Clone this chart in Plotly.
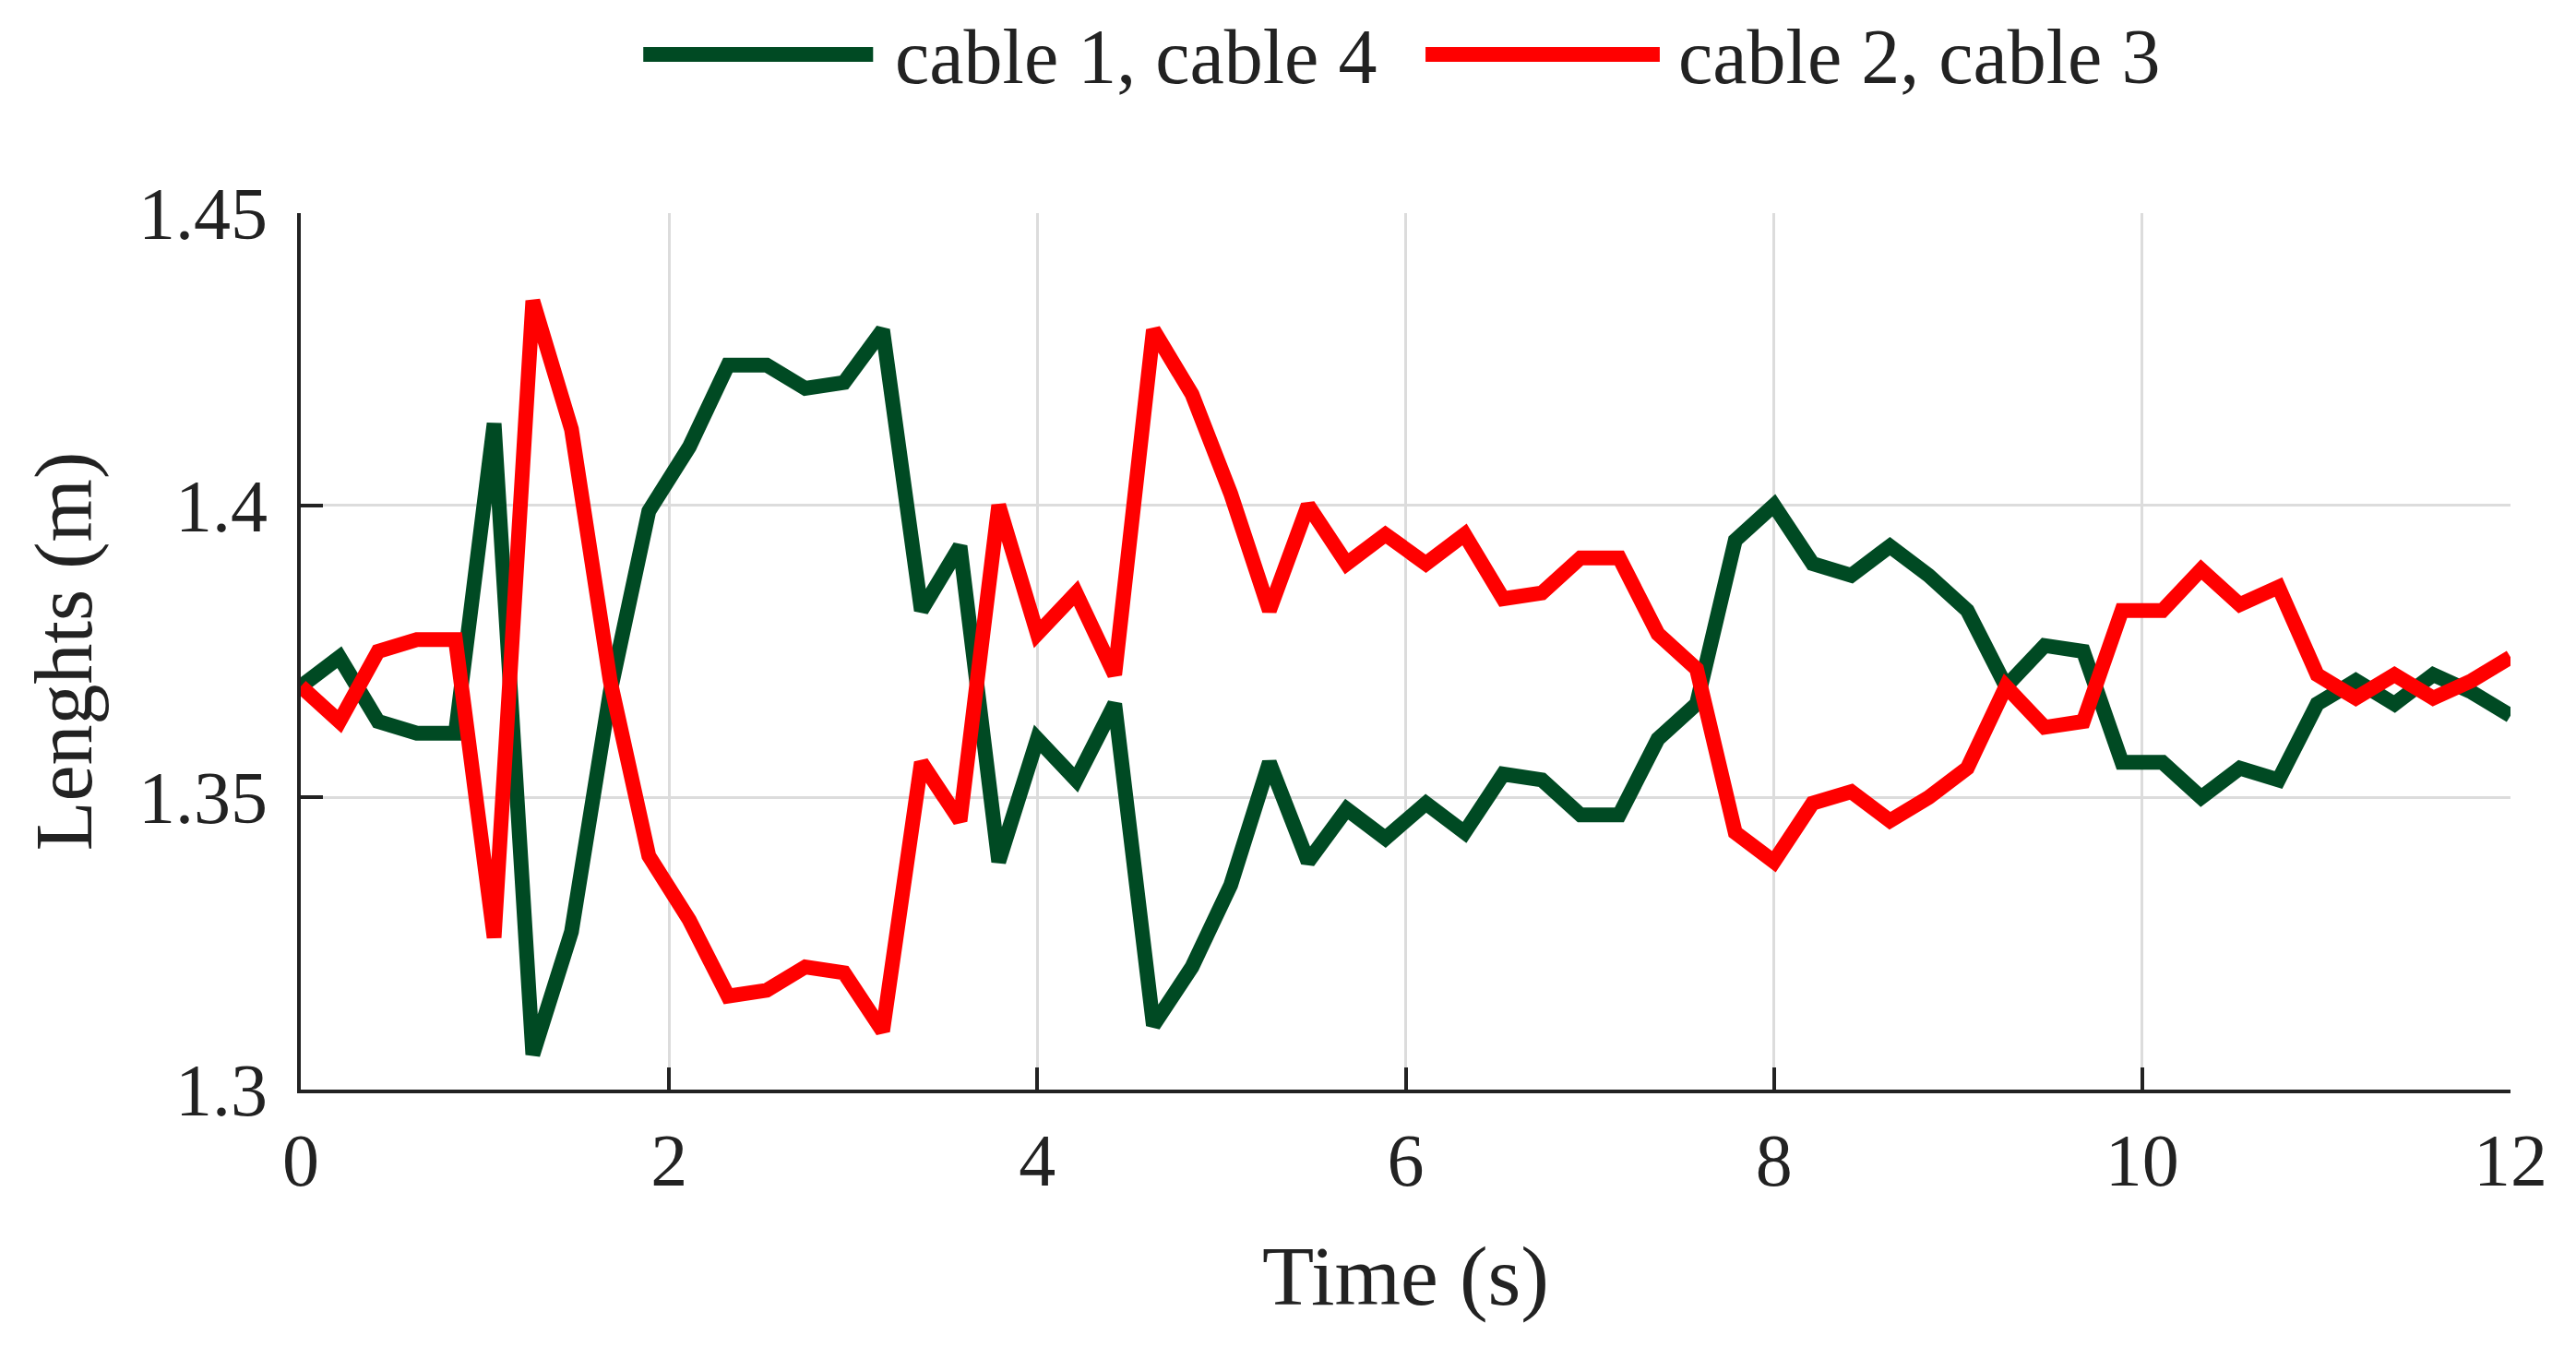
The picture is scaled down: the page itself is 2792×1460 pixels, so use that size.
import plotly.graph_objects as go

# ---- data ----
time_s = [0.0, 0.21, 0.42, 0.63, 0.84, 1.05, 1.26, 1.47, 1.68, 1.89,
          2.11, 2.32, 2.53, 2.74, 2.95, 3.16, 3.37, 3.58, 3.79, 4.0,
          4.21, 4.42, 4.63, 4.84, 5.05, 5.26, 5.47, 5.68, 5.89, 6.11,
          6.32, 6.53, 6.74, 6.95, 7.16, 7.37, 7.58, 7.79, 8.0, 8.21,
          8.42, 8.63, 8.84, 9.05, 9.26, 9.47, 9.68, 9.89, 10.11, 10.32,
          10.53, 10.74, 10.95, 11.16, 11.37, 11.58, 11.79, 12.0]

cable_1_4 = [1.369, 1.374, 1.363, 1.361, 1.361, 1.414, 1.306, 1.327, 1.368, 1.399,
             1.410, 1.424, 1.424, 1.420, 1.421, 1.430, 1.382, 1.393, 1.339, 1.360,
             1.353, 1.366, 1.311, 1.321, 1.335, 1.356, 1.339, 1.348, 1.343, 1.349,
             1.344, 1.354, 1.353, 1.347, 1.347, 1.360, 1.366, 1.394, 1.400, 1.390,
             1.388, 1.393, 1.388, 1.382, 1.369, 1.376, 1.375, 1.356, 1.356, 1.350,
             1.355, 1.353, 1.366, 1.370, 1.366, 1.371, 1.368, 1.364]

cable_2_3 = [1.369, 1.363, 1.375, 1.377, 1.377, 1.326, 1.435, 1.413, 1.370, 1.340,
             1.329, 1.316, 1.317, 1.321, 1.320, 1.310, 1.356, 1.346, 1.400, 1.378,
             1.385, 1.371, 1.430, 1.419, 1.402, 1.382, 1.400, 1.390, 1.395, 1.390,
             1.395, 1.384, 1.385, 1.391, 1.391, 1.378, 1.372, 1.344, 1.339, 1.349,
             1.351, 1.346, 1.350, 1.355, 1.369, 1.362, 1.363, 1.382, 1.382, 1.389,
             1.383, 1.386, 1.371, 1.367, 1.371, 1.367, 1.370, 1.374]

series_names = ["cable 1, cable 4", "cable 2, cable 3"]
series_colors = ["#004a23", "#ff0000"]

x_ticks = [0, 2, 4, 6, 8, 10, 12]
y_ticks = [1.3, 1.35, 1.4, 1.45]

FONT = "Liberation Serif, Times New Roman, serif"
TEXT = "#222222"
LW = 16

fig = go.Figure()
for name, vals, col in zip(series_names, [cable_1_4, cable_2_3], series_colors):
    fig.add_trace(go.Scatter(x=time_s, y=vals, mode="lines", name=name,
                             line=dict(color=col, width=LW), showlegend=False))

# custom legend (long line samples above the plot)
legend_items = [(0.155, 0.259, 0.268), (0.509, 0.615, 0.6225)]
for (x0, x1, xt), name, col in zip(legend_items, series_names, series_colors):
    fig.add_shape(type="line", xref="paper", yref="paper", x0=x0, x1=x1,
                  y0=1.181, y1=1.181, line=dict(color=col, width=LW))
    fig.add_annotation(xref="paper", yref="paper", x=xt, y=1.178, text=name,
                       showarrow=False, xanchor="left", yanchor="middle",
                       font=dict(family=FONT, size=84, color=TEXT))

axis_common = dict(
    showline=True, linecolor="#222222", linewidth=4,
    ticks="inside", ticklen=24, tickwidth=4, tickcolor="#222222",
    showgrid=True, gridcolor="#dcdcdc", gridwidth=3,
    zeroline=False,
    tickfont=dict(family=FONT, size=80, color=TEXT),
)

fig.update_xaxes(range=[0, 12], tickvals=x_ticks, ticklabelstandoff=4,
                 title=dict(text="Time (s)", font=dict(family=FONT, size=92, color=TEXT),
                            standoff=50),
                 **axis_common)
fig.update_yaxes(range=[1.3, 1.45], tickvals=y_ticks,
                 ticktext=["1.3", "1.35", "1.4", "1.45"], ticklabelstandoff=16,
                 title=dict(text="Lenghts (m)", font=dict(family=FONT, size=88, color=TEXT),
                            standoff=22),
                 **axis_common)

# page body has an 8px default margin; shift margins so the plot lands in place
fig.update_layout(
    width=2792, height=1460,
    margin=dict(l=318, r=79, t=223, b=287, autoexpand=False),
    plot_bgcolor="white", paper_bgcolor="white",
    font=dict(family=FONT, color=TEXT),
)

fig.write_html("out.html")
